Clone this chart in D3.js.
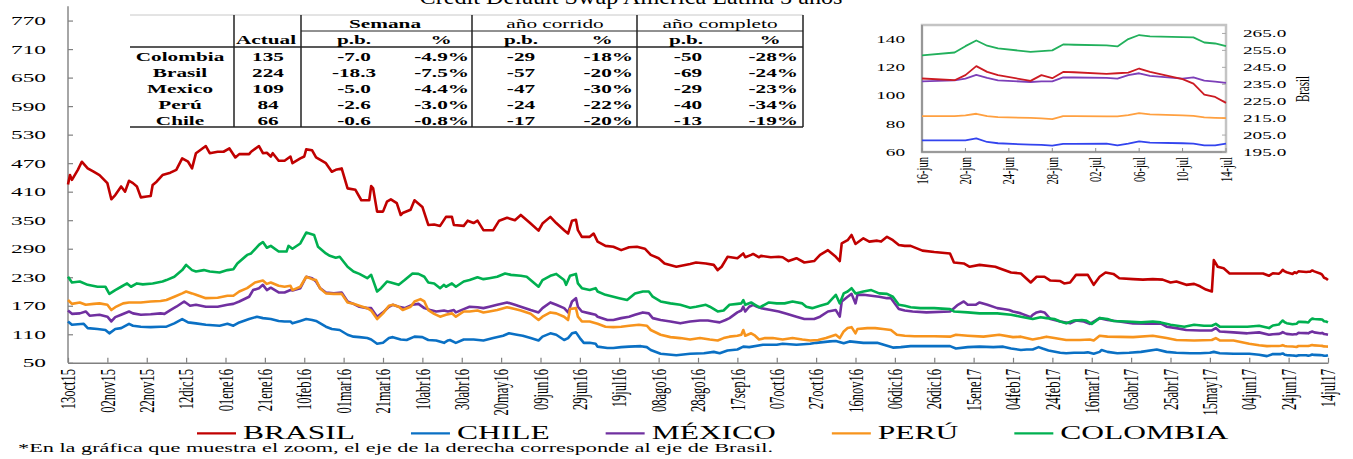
<!DOCTYPE html>
<html><head><meta charset="utf-8">
<script src="https://cdn.jsdelivr.net/npm/d3@7"></script>
<style>body{margin:0;background:#fff}svg{display:block}text{font-family:"Liberation Serif","Times New Roman",serif;fill:#000}</style>
</head><body>
<svg id="c" width="1353" height="459"></svg>
<script>
// ---------- DATA ----------
const startDate = Date.UTC(2015, 9, 13); // day 0 = 13 oct 2015
const titleText = "Credit Default Swap America Latina 5 años";
const seriesNames = ["BRASIL", "CHILE", "MÉXICO", "PERÚ", "COLOMBIA"];

// [day offset from 13oct15, basis points]
const brasil = [[0,425],[1,445],[2,435],[5,456],[7,473],[10,459],[13,452],[16,445],[20,428],[22,394],[24,403],[27,421],[29,410],[31,433],[33,428],[35,421],[37,398],[40,400],[42,401],[43,424],[45,431],[48,445],[52,450],[55,456],[58,480],[61,473],[63,459],[65,491],[70,506],[72,491],[76,494],[79,494],[82,501],[85,482],[87,489],[92,489],[93,494],[97,506],[99,491],[101,492],[103,484],[104,491],[107,475],[110,475],[113,484],[114,470],[118,480],[120,484],[121,499],[124,497],[126,482],[131,470],[134,452],[136,456],[139,459],[142,417],[146,414],[149,392],[153,392],[154,422],[155,417],[157,368],[160,368],[162,389],[164,394],[167,386],[169,361],[170,365],[174,372],[176,392],[180,378],[183,340],[186,341],[189,338],[192,357],[195,357],[196,340],[201,338],[203,349],[206,344],[208,349],[211,329],[216,329],[219,349],[223,355],[227,350],[230,361],[235,343],[239,328],[241,343],[245,357],[248,344],[252,329],[254,322],[256,349],[258,351],[259,329],[261,315],[265,315],[267,322],[269,305],[273,296],[277,294],[281,287],[285,293],[289,294],[293,290],[296,277],[300,270],[303,259],[309,252],[316,258],[319,261],[324,259],[328,256],[330,245],[332,252],[335,273],[340,270],[343,280],[344,272],[347,277],[348,279],[351,272],[352,275],[357,272],[361,273],[363,272],[366,264],[370,270],[374,261],[379,264],[382,277],[386,287],[390,273],[392,264],[393,301],[396,308],[398,319],[400,300],[404,312],[407,305],[411,307],[413,305],[416,315],[419,308],[422,298],[425,296],[428,296],[434,286],[440,283],[448,280],[450,261],[455,259],[458,252],[463,256],[471,252],[473,249],[479,240],[484,238],[489,219],[492,231],[496,231],[499,223],[504,222],[506,217],[509,219],[512,235],[514,235],[518,235],[521,214],[524,231],[527,240],[531,237],[534,228],[541,226],[546,225],[551,226],[556,225],[560,219],[563,221],[568,214],[572,216],[575,211],[578,204],[581,200],[582,266],[584,252],[587,249],[590,238],[599,238],[607,238],[610,233],[612,238.4],[615,237.4],[616,240.4],[617,245.7],[618,242.3],[619,240.4],[622,237],[623,240.4],[624,238.6],[625,242.3],[626,242.1],[629,241.1],[630,241.5],[631,241.9],[632,244.3],[633,242.3],[636,238],[637,235.4],[638,228.9],[639,227.5],[640,224]];

const chile = [[0,137],[2,130],[8,132],[10,123],[15,121],[19,119],[21,112],[24,121],[27,123],[31,132],[33,128],[37,126],[42,125],[47,126],[50,126],[54,133],[58,142],[61,135],[65,133],[70,130],[77,128],[81,132],[84,128],[87,135],[92,142],[96,147],[99,144],[103,142],[107,138],[110,137],[113,137],[114,133],[118,138],[121,142],[124,140],[126,138],[131,126],[134,121],[138,119],[142,109],[145,105],[148,104],[152,102],[154,99],[157,90],[160,92],[163,102],[165,104],[169,99],[172,98],[176,105],[180,104],[183,98],[187,97],[191,92],[193,97],[194,98],[197,92],[201,99],[206,99],[211,97],[216,102],[221,107],[224,112],[228,109],[231,107],[235,102],[239,97],[241,105],[245,112],[248,109],[252,98],[254,102],[256,112],[258,114],[260,102],[262,92],[265,92],[268,90],[269,84],[274,81],[277,81],[281,83],[285,84],[291,85],[294,83],[296,77],[301,69],[309,66],[316,69],[323,70],[328,73],[331,70],[335,76],[340,78],[343,84],[346,83],[353,88],[360,88],[363,90],[370,88],[377,90],[380,92],[387,95],[390,96],[394,91],[397,95],[404,92],[411,92],[419,82],[423,83],[428,85],[440,85],[448,85],[451,80],[457,83],[463,84],[470,83],[475,84],[479,80],[484,77],[487,78],[490,78],[493,83],[495,80],[498,76],[504,71],[507,70],[511,71],[516,71],[518,72],[521,69],[524,73],[525,77],[528,73],[533,70],[539,71],[545,73],[553,78],[558,73],[563,71],[570,70],[575,70],[580,71],[582,73],[585,70],[592,69],[600,69],[605,67],[609,64],[612,68.3],[615,68.3],[616,68.3],[617,69.7],[618,67.1],[619,66.2],[622,65.2],[623,65],[624,64.5],[625,65.7],[626,65.8],[629,65.9],[630,64.7],[631,65.9],[632,67.6],[633,66.6],[636,66.2],[637,65.9],[638,64.7],[639,64.7],[640,66]];

const mexico = [[0,160],[2,153],[6,154],[9,158],[11,149],[16,151],[20,147],[22,137],[24,146],[27,151],[31,158],[33,154],[37,151],[42,152],[47,154],[49,153],[52,161],[55,168],[59,179],[62,170],[65,172],[70,168],[76,168],[81,172],[84,174],[87,179],[92,189],[94,203],[97,207],[99,214],[101,203],[103,208],[107,198],[110,198],[113,203],[114,202],[118,207],[121,231],[124,228],[126,221],[128,207],[131,198],[135,196],[139,198],[142,179],[145,174],[148,168],[152,165],[154,165],[157,147],[160,156],[163,168],[165,172],[168,168],[171,165],[175,172],[178,174],[181,165],[184,161],[187,158],[191,160],[193,158],[196,161],[197,156],[201,163],[204,168],[208,167],[211,165],[214,168],[218,172],[223,177],[227,172],[230,168],[235,161],[239,156],[241,165],[245,177],[248,172],[252,165],[254,156],[256,179],[258,186],[259,168],[261,158],[265,154],[268,151],[269,147],[274,140],[277,140],[281,144],[285,147],[288,151],[292,156],[295,154],[297,144],[301,140],[306,137],[311,133],[316,137],[321,139],[325,139],[328,137],[331,135],[334,140],[336,144],[340,156],[342,160],[343,168],[344,158],[346,168],[348,172],[350,168],[352,165],[357,161],[361,158],[365,153],[370,147],[374,142],[379,142],[382,147],[386,158],[390,161],[392,147],[393,179],[396,189],[398,195],[400,175],[401,193],[404,193],[408,191],[412,189],[416,186],[418,186],[422,163],[425,160],[429,158],[436,156],[448,158],[450,165],[452,172],[455,179],[457,172],[461,172],[463,177],[467,172],[472,165],[475,163],[478,161],[480,158],[484,154],[489,146],[490,151],[492,156],[494,158],[496,156],[499,142],[504,137],[509,133],[512,139],[516,137],[519,132],[524,144],[528,140],[534,137],[541,133],[548,132],[555,133],[558,126],[563,123],[568,119],[575,118],[581,118],[583,123],[585,116],[592,114],[599,112],[605,114],[610,109],[612,110],[615,110.8],[616,112],[617,114.6],[618,112.5],[619,110.8],[622,109.6],[623,110],[624,110.1],[625,112.9],[626,112.8],[629,112.5],[630,112],[631,114.5],[632,115.8],[633,114],[636,112],[637,112.9],[638,110.6],[639,109.9],[640,109]];

const peru = [[0,182],[2,174],[6,177],[9,172],[13,174],[16,175],[20,172],[22,161],[24,167],[28,175],[31,177],[33,177],[37,177],[42,179],[47,180],[50,182],[54,189],[58,196],[60,200],[63,196],[65,193],[70,186],[76,187],[81,191],[84,191],[87,200],[91,207],[95,219],[99,223],[101,216],[103,219],[107,212],[110,210],[113,212],[114,203],[118,210],[121,231],[124,226],[126,224],[128,207],[131,196],[135,195],[139,195],[142,177],[145,174],[148,170],[152,165],[154,160],[157,142],[160,154],[163,170],[165,172],[168,168],[170,161],[174,168],[176,179],[179,184],[181,179],[183,161],[186,153],[189,147],[192,151],[195,154],[197,147],[201,158],[204,158],[208,160],[211,156],[214,158],[218,161],[223,167],[227,163],[230,160],[235,153],[239,140],[241,147],[245,156],[248,154],[252,147],[254,140],[255,163],[258,165],[259,147],[261,137],[265,137],[269,132],[273,126],[277,125],[281,126],[285,128],[290,130],[294,128],[296,119],[301,109],[306,104],[311,102],[316,99],[321,102],[326,99],[330,97],[333,102],[336,105],[340,107],[342,109],[343,119],[344,107],[347,112],[349,107],[351,99],[354,102],[358,102],[363,99],[368,102],[373,99],[377,97],[381,98],[385,102],[390,109],[392,102],[394,116],[396,123],[398,125],[400,112],[401,121],[406,123],[410,123],[414,121],[418,119],[421,109],[425,107],[430,106],[440,106],[448,105],[451,109],[457,107],[465,105],[473,109],[480,104],[484,105],[490,99],[494,102],[497,105],[501,102],[507,98],[514,98],[519,99],[521,97],[524,107],[528,105],[541,104],[551,107],[558,102],[563,98],[572,97],[581,98],[583,102],[585,97],[592,97],[600,90],[605,87],[609,85],[612,85.4],[615,85.4],[616,86],[617,87.1],[618,85.4],[619,84.7],[622,84.2],[623,83.8],[624,83.3],[625,85.4],[626,85.4],[629,85.2],[630,85.2],[631,86.2],[632,87.5],[633,86.6],[636,86],[637,85.6],[638,84.5],[639,84.2],[640,84]];

const colombia = [[0,231],[2,219],[6,221],[10,214],[15,210],[19,210],[21,195],[24,203],[27,210],[30,217],[32,210],[35,217],[38,215],[43,217],[48,221],[50,224],[54,231],[58,245],[60,256],[63,245],[65,242],[69,245],[72,242],[77,240],[81,245],[84,247],[86,259],[91,277],[93,280],[97,298],[99,304],[101,292],[103,296],[107,284],[111,284],[112,296],[114,290],[118,301],[121,324],[125,319],[127,294],[131,280],[133,275],[136,271],[138,273],[142,252],[145,242],[148,237],[152,228],[154,235],[157,200],[159,207],[162,221],[164,219],[168,214],[171,224],[175,238],[178,237],[181,231],[183,219],[186,217],[189,207],[191,214],[192,210],[195,217],[197,210],[201,221],[204,224],[208,230],[211,226],[214,228],[218,231],[222,238],[225,235],[230,233],[233,231],[239,210],[241,224],[245,233],[248,237],[252,224],[253,214],[255,233],[258,237],[259,217],[261,207],[265,203],[268,207],[269,200],[273,193],[277,189],[280,186],[284,182],[288,196],[292,200],[295,200],[297,189],[301,179],[306,175],[311,172],[316,166],[319,168],[324,172],[326,168],[330,158],[333,160],[336,172],[340,174],[342,175],[343,182],[344,172],[347,177],[349,172],[351,167],[352,168],[356,177],[360,175],[364,175],[368,179],[373,175],[375,168],[378,165],[382,170],[386,175],[390,193],[392,175],[394,196],[396,200],[398,207],[400,196],[404,200],[408,203],[412,196],[416,195],[419,189],[422,172],[425,170],[428,167],[433,165],[440,165],[448,163],[450,158],[457,156],[463,154],[472,154],[479,151],[484,147],[490,142],[494,146],[497,144],[501,142],[504,137],[507,133],[511,139],[515,140],[517,139],[520,132],[524,144],[528,142],[531,138],[538,137],[545,135],[551,137],[555,135],[560,130],[567,126],[572,130],[577,128],[581,128],[583,132],[585,126],[592,126],[599,126],[605,128],[610,123],[612,128.5],[615,130.5],[616,135],[617,139],[618,135.3],[619,133.4],[622,131],[623,131.5],[624,132],[625,136.2],[626,136],[629,135.5],[630,134.8],[631,140],[632,142.9],[633,142],[636,141.4],[637,141.2],[638,137.6],[639,136.9],[640,135]];

const yTicks = [50,110,170,230,290,350,410,470,530,590,650,710,770];
const xTickLabels = ["13oct15","02nov15","22nov15","12dic15","01ene16","21ene16","10feb16","01mar16","21mar16","10abr16","30abr16","20may16","09jun16","29jun16","19jul16","08ago16","28ago16","17sep16","07oct16","27oct16","16nov16","06dic16","26dic16","15ene17","04feb17","24feb17","16mar17","05abr17","25abr17","15may17","04jun17","24jun17","14jul17"];

// zoom inset (16-jun-2017 .. 14-jul-2017)
const insetFirstDay = 612, insetLastDay = 640;
const insetXTickLabels = ["16-jun","20-jun","24-jun","28-jun","02-jul","06-jul","10-jul","14-jul"];
const insetLeftTicks = [60,80,100,120,140];
const insetRightTicks = [195,205,215,225,235,245,255,265];
const insetRightTitle = "Brasil";

// table
const tableCountries = ["Colombia","Brasil","Mexico","Perú","Chile"];
const tableActual = ["135","224","109","84","66"];
const semanaPb = ["-7.0","-18.3","-5.0","-2.6","-0.6"];
const semanaPct = ["-4.9%","-7.5%","-4.4%","-3.0%","-0.8%"];
const corridoPb = ["-29","-57","-47","-24","-17"];
const corridoPct = ["-18%","-20%","-30%","-22%","-20%"];
const completoPb = ["-50","-69","-29","-40","-13"];
const completoPct = ["-28%","-24%","-23%","-34%","-19%"];
const tableGroups = ["Semana","año corrido","año completo"];
const footnote = "*En la gráfica que muestra el zoom, el eje de la derecha corresponde al eje de Brasil.";

// ---------- DRAW ----------
const svg = d3.select("#c");
const DAY = 864e5;
const toDate = d => new Date(startDate + d * DAY);
const seriesData = [brasil, chile, mexico, peru, colombia];
const mainColors = ["#c00000", "#0a70c4", "#7030a0", "#f7941d", "#00b050"];
const insetColors = ["#cc1a22", "#3344ee", "#7c3fb8", "#ffa040", "#22b05c"];

function stext(parent, x, y, str, o = {}) {
  const sx = o.sx || 1.75;
  let tr = `translate(${x},${y}) scale(${sx},1)`;
  if (o.rotate) tr += " rotate(-90)";
  return parent.append("text").attr("transform", tr)
    .attr("text-anchor", o.anchor || "start")
    .attr("dy", o.dy || null)
    .style("font-size", (o.size || 13) + "px")
    .style("font-weight", o.weight || "normal")
    .text(str);
}

// main scales
const x = d3.scaleUtc().domain([toDate(0), toDate(640)]).range([68, 1328]);
const y = d3.scaleLinear().domain([50, 800]).range([362.8, 6.3]);

// title
svg.append("text").attr("x", 631).attr("y", 4).attr("text-anchor", "middle")
  .attr("textLength", 423).attr("lengthAdjust", "spacingAndGlyphs")
  .style("font-size", "22px").text(titleText);

// axes
const axisColor = "#808080";
const gy = svg.append("g").attr("transform", "translate(68,0)")
  .call(d3.axisLeft(y).tickValues(yTicks).tickSize(-5).tickFormat(""));
const xTickDates = xTickLabels.map((_, i) => toDate(i * 20));
const gx = svg.append("g").attr("transform", `translate(0,${y(50)})`)
  .call(d3.axisBottom(x).tickValues(xTickDates).tickSize(-5).tickSizeOuter(0).tickFormat(""));
[gy, gx].forEach(g => {
  g.select(".domain").attr("stroke", axisColor).attr("stroke-width", 1.4);
  g.selectAll(".tick line").attr("stroke", axisColor).attr("stroke-width", 1.2);
});
gy.select(".domain").attr("d", `M0,${y(800)}V${y(50)}`);

yTicks.forEach(v => stext(svg, 46, y(v), v, { size: 13, sx: 1.8, anchor: "end", dy: "0.35em" }));
xTickLabels.forEach((lab, i) => stext(svg, x(xTickDates[i]), 369, lab, { size: 12.5, sx: 1.65, anchor: "end", rotate: true, dy: "0.35em" }));

// main lines
const line = d3.line().x(d => x(toDate(d[0]))).y(d => y(d[1]));
seriesData.forEach((s, i) => {
  svg.append("path").datum(s).attr("d", line).attr("fill", "none")
    .attr("stroke", mainColors[i]).attr("stroke-width", 2.6).attr("stroke-linejoin", "round");
});

// table
const tb = svg.append("g");
const tl = (x1, y1, x2, y2, c, w) => tb.append("line").attr("x1", x1).attr("y1", y1).attr("x2", x2).attr("y2", y2).attr("stroke", c).attr("stroke-width", w);
tb.append("rect").attr("x", 130).attr("y", 15).attr("width", 673).attr("height", 112).attr("fill", "#fff");
tl(130, 15, 803, 15, "#c8c8c8", 1);
tl(301, 31, 803, 31, "#222", 1);
tl(130, 47, 803, 47, "#222", 1.5);
tl(130, 127, 803, 127, "#222", 1.5);
[234, 301, 472, 637, 803].forEach(xx => tl(xx, 15, xx, 127, "#222", 1.5));
const TS = { size: 12.5, sx: 1.7, weight: "bold", anchor: "middle" };
stext(tb, 385, 28, tableGroups[0], TS);
stext(tb, 555, 28, tableGroups[1], { ...TS, weight: "normal" });
stext(tb, 720, 28, tableGroups[2], { ...TS, weight: "normal" });
stext(tb, 266, 44, "Actual", TS);
[[354, "p.b."], [441, "%"], [521, "p.b."], [602, "%"], [686, "p.b."], [770, "%"]].forEach(([xx, t]) => stext(tb, xx, 44, t, TS));
tableCountries.forEach((c, i) => {
  const yy = 60.5 + i * 16;
  stext(tb, 180, yy, c, TS);
  stext(tb, 268, yy, tableActual[i], TS);
  stext(tb, 354, yy, semanaPb[i], TS);
  stext(tb, 469, yy, semanaPct[i], { ...TS, anchor: "end" });
  stext(tb, 521, yy, corridoPb[i], TS);
  stext(tb, 633, yy, corridoPct[i], { ...TS, anchor: "end" });
  stext(tb, 688, yy, completoPb[i], TS);
  stext(tb, 798, yy, completoPct[i], { ...TS, anchor: "end" });
});

// inset
const ig = svg.append("g");
const ix = d3.scaleUtc().domain([toDate(insetFirstDay), toDate(insetLastDay)]).range([922, 1226]);
const iyL = d3.scaleLinear().domain([60, 150]).range([152, 25]);
const iyR = d3.scaleLinear().domain([195, 270]).range([152, 25]);
ig.append("rect").attr("x", 922).attr("y", 25).attr("width", 304).attr("height", 127)
  .attr("fill", "#fff").attr("stroke", "#c4c4c4").attr("stroke-width", 2.5);
ig.append("path").attr("d", "M922,25V152H1226").attr("fill", "none").attr("stroke", "#8c8c8c").attr("stroke-width", 1.6);
const insetTickDates = insetXTickLabels.map((_, i) => toDate(insetFirstDay + i * 4));
insetTickDates.forEach((d, i) => {
  ig.append("line").attr("x1", ix(d)).attr("x2", ix(d)).attr("y1", 152).attr("y2", 148).attr("stroke", "#8c8c8c");
  stext(ig, ix(d), 157, insetXTickLabels[i], { size: 10.5, sx: 1.5, anchor: "end", rotate: true, dy: "0.35em" });
});
insetLeftTicks.forEach(v => stext(ig, 905, iyL(v), v, { size: 11, sx: 1.75, anchor: "end", dy: "0.35em" }));
insetRightTicks.forEach(v => {
  ig.append("line").attr("x1", 1226).attr("x2", 1222).attr("y1", iyR(v)).attr("y2", iyR(v)).attr("stroke", "#aaa");
  stext(ig, 1243, iyR(v), v.toFixed(1), { size: 11, sx: 1.75, anchor: "start", dy: "0.35em" });
});
stext(ig, 1302, 89, insetRightTitle, { size: 11, sx: 1.75, anchor: "middle", rotate: true, dy: "0.35em" });
const order = [4, 2, 3, 1, 0];
order.forEach(i => {
  const s = seriesData[i].filter(d => d[0] >= insetFirstDay);
  const ys = i === 0 ? iyR : iyL;
  const l = d3.line().x(d => ix(toDate(d[0]))).y(d => ys(d[1]));
  ig.append("path").datum(s).attr("d", l).attr("fill", "none")
    .attr("stroke", insetColors[i]).attr("stroke-width", 1.8).attr("stroke-linejoin", "round");
});

// legend
let lx = 197;
seriesNames.forEach((n, i) => {
  svg.append("line").attr("x1", lx).attr("x2", lx + 39).attr("y1", 433.3).attr("y2", 433.3)
    .attr("stroke", mainColors[i]).attr("stroke-width", 2.2);
  const t = stext(svg, lx + 46, 439, n, { size: 18, sx: 1.75 });
  const w = t.node().getComputedTextLength() * 1.75;
  lx = lx + 46 + w + 56;
});

// footnote
svg.append("text").attr("x", 18).attr("y", 452).attr("textLength", 755).attr("lengthAdjust", "spacingAndGlyphs")
  .style("font-size", "12.5px").text(footnote);
</script>
</body></html>
